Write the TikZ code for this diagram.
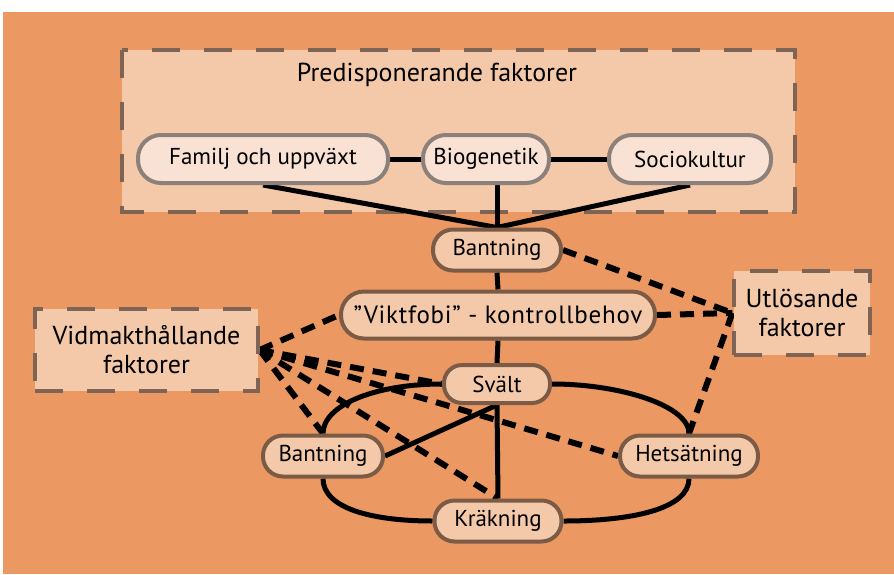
\documentclass[tikz,border=0pt]{standalone}
\usepackage{fontspec}
\setmainfont{PT Sans}
\usetikzlibrary{backgrounds}
\definecolor{bgc}{HTML}{EB9863}
\definecolor{boxc}{HTML}{F3C9A9}
\definecolor{dboxc}{HTML}{7E6455}
\definecolor{tpf}{HTML}{F9E2D3}
\definecolor{tpb}{HTML}{8C817A}
\definecolor{pf}{HTML}{F3C9AA}
\definecolor{pb}{HTML}{7C5B46}
\begin{document}
\begin{tikzpicture}[x=1pt,y=-1pt,
  dbox/.style={draw=dboxc, line width=3.2pt, dash pattern=on 28pt off 24pt, fill=boxc, inner sep=0pt},
  toppill/.style={draw=tpb, fill=tpf, line width=4pt, rounded corners=23pt, minimum height=48pt, inner sep=0pt, font=\fontsize{23}{27}\selectfont},
  pill/.style={draw=pb, fill=pf, line width=4pt, rounded corners=20pt, minimum height=41pt, inner sep=0pt, font=\fontsize{23}{27}\selectfont},
  conn/.style={line width=5pt, black},
  dconn/.style={line width=6pt, black, dash pattern=on 14pt off 9pt},
]
\useasboundingbox (0,0) rectangle (894,574);

% nodes
\node[toppill, minimum width=250pt] (fam) at (263,159) {Familj och uppväxt};
\node[toppill, minimum width=126pt] (bio) at (486,159) {Biogenetik};
\node[toppill, minimum width=162pt] (soc) at (690,159) {Sociokultur};
\node[pill, minimum width=128pt] (bant1) at (497,250) {Bantning};
\node[pill, minimum width=314pt, minimum height=47pt, rounded corners=23pt, font=\fontsize{25}{29}\selectfont\addfontfeature{LetterSpace=3}] (vikt) at (498,315) {”Viktfobi” - kontrollbehov};
\node[pill, minimum width=106pt, minimum height=38pt, rounded corners=18pt] (svalt) at (497,384) {Svält};
\node[pill, minimum width=120pt] (bant2) at (323,456) {Bantning};
\node[pill, minimum width=138pt] (hets) at (689,456) {Hetsätning};
\node[pill, minimum width=127pt] (krak) at (498,521) {Kräkning};
\node[dbox, minimum width=223pt, minimum height=82pt, align=center, font=\fontsize{26}{29}\selectfont] (vid) at (146.5,350) {Vidmakthållande\\faktorer};
\node[dbox, minimum width=136pt, minimum height=84pt, align=center, font=\fontsize{26}{29}\selectfont] (utl) at (802,313) {Utlösande\\faktorer};

\begin{scope}[on background layer]
  \fill[white] (0,0) rectangle (894,574);
  \fill[bgc] (3,12) rectangle (894,574);
  \draw[dbox] (122,50) rectangle (795,212);
  \node[font=\fontsize{26}{30}\selectfont] (pre) at (437,75) {Predisponerande faktorer};
  % solid connectors
  \draw[conn] (fam) -- (bio);
  \draw[conn] (bio) -- (soc);
  \draw[conn] (fam.south) -- (bant1.north);
  \draw[conn] (bant1.north |- bio.south) -- (bant1.north);
  \draw[conn] (soc.south) -- (bant1.north);
  \draw[conn] (bant1.south) -- (vikt.north);
  \draw[conn] (vikt.south) -- (svalt.north);
  \draw[conn] (svalt.west) .. controls +(-68,0) and +(0,-28) .. (bant2.north);
  \draw[conn] (svalt.east) .. controls +(68,0) and +(0,-28) .. (hets.north);
  \draw[conn] (bant2.south) .. controls +(0,30) and +(-60,0) .. (krak.west);
  \draw[conn] (hets.south) .. controls +(0,30) and +(70,0) .. (krak.east);
  \draw[conn] (bant2.east) -- (svalt.south);
  \draw[conn] (svalt.south) -- (krak.north);
  % dashed connectors
  \draw[dconn] (bant1.east) -- (utl.west);
  \draw[dconn] (vikt.east) -- (utl.west);
  \draw[dconn] (utl.west) -- (hets.north);
  \draw[dconn] (vid.east) -- (vikt.west);
  \draw[dconn] (vid.east) -- (svalt.west);
  \draw[dconn] (vid.east) -- (hets.west);
  \draw[dconn] (vid.east) -- (bant2.north);
  \draw[dconn] (vid.east) -- (krak.north);
\end{scope}
\end{tikzpicture}
\end{document}
